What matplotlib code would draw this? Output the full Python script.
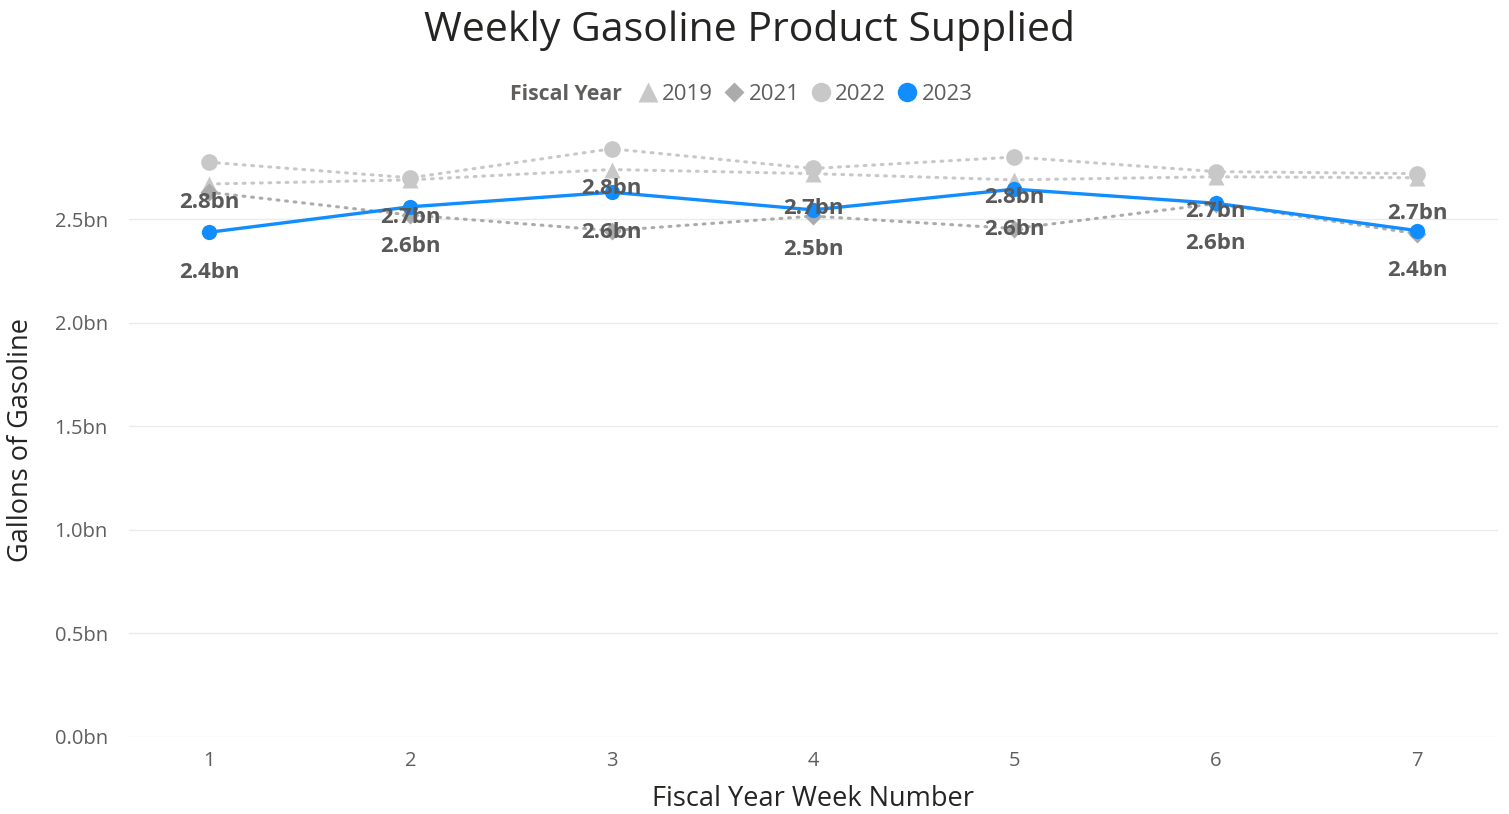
import matplotlib.pyplot as plt
from matplotlib.lines import Line2D

weeks = [1, 2, 3, 4, 5, 6, 7]
fy2019 = [2.67, 2.69, 2.74, 2.72, 2.69, 2.705, 2.70]
fy2021 = [2.63, 2.52, 2.445, 2.515, 2.455, 2.575, 2.43]
fy2022 = [2.775, 2.70, 2.84, 2.745, 2.80, 2.73, 2.72]
fy2023 = [2.437, 2.56, 2.63, 2.545, 2.645, 2.577, 2.445]
y_ticks = [0.0, 0.5, 1.0, 1.5, 2.0, 2.5]

plt.rcParams['font.family'] = ['Open Sans', 'DejaVu Sans']

fig = plt.figure(figsize=(15.09, 8.14), dpi=100)
ax = fig.add_axes([0.0852, 0.0946, 0.9072, 0.7506])

dot = (0, (0.6, 2.2))
ax.plot(weeks, fy2019, color='#C8C8C8', lw=2.2, ls=dot, dash_capstyle='round',
        marker='^', ms=12, mec='none', zorder=2)
ax.plot(weeks, fy2021, color='#ABABAB', lw=2.2, ls=dot, dash_capstyle='round',
        marker='D', ms=9, mec='none', zorder=2)
ax.plot(weeks, fy2022, color='#C8C8C8', lw=2.2, ls=dot, dash_capstyle='round',
        marker='o', ms=12, mec='none', zorder=3)
ax.plot(weeks, fy2023, color='#118DFF', lw=2.4, marker='o', ms=11,
        mec='none', zorder=4)

# data labels for 2022 and 2023, 40px below each point
for series in (fy2022, fy2023):
    for x, v in zip(weeks, series):
        ax.annotate(f'{v:.1f}bn', (x, v), xytext=(0, -28.8), textcoords='offset points',
                    ha='center', va='center', fontsize=16, fontweight='bold',
                    color='#595959', zorder=5)

ax.set_xlim(0.6, 7.4)
ax.set_ylim(0, 2.95)
ax.set_xticks(weeks)
ax.set_yticks(y_ticks)
ax.set_yticklabels([f'{t:.1f}bn' for t in y_ticks])
ax.tick_params(length=0, labelsize=14.5, colors='#605E5C')
ax.tick_params(axis='x', pad=10)
ax.tick_params(axis='y', pad=15)
ax.grid(axis='y', color='#EBEBEB', lw=1)
ax.set_axisbelow(True)
for s in ax.spines.values():
    s.set_visible(False)

ax.set_xlabel('Fiscal Year Week Number', fontsize=19.5, color='#252423', labelpad=10)
ax.set_ylabel('Gallons of Gasoline', fontsize=19.5, color='#252423')
ax.yaxis.set_label_coords(-0.068, 0.486)
fig.text(0.497, 0.962, 'Weekly Gasoline Product Supplied', ha='center', va='center',
         fontsize=29.5, color='#252423')

fig.text(0.338, 0.884, 'Fiscal Year', ha='left', va='center', fontsize=15.3,
         fontweight='bold', color='#605E5C')
handles = [
    Line2D([], [], ls='none', marker='^', ms=14, color='#C8C8C8', mec='none'),
    Line2D([], [], ls='none', marker='D', ms=10, color='#ABABAB', mec='none'),
    Line2D([], [], ls='none', marker='o', ms=14, color='#C8C8C8', mec='none'),
    Line2D([], [], ls='none', marker='o', ms=14, color='#118DFF', mec='none'),
]
fig.legend(handles, ['2019', '2021', '2022', '2023'], loc='center left',
           bbox_to_anchor=(0.416, 0.884), ncol=4, frameon=False,
           fontsize=16, labelcolor='#605E5C', handlelength=0.8, handletextpad=0.25,
           columnspacing=0.55, borderpad=0)

fig.savefig('out.png', dpi=100)
